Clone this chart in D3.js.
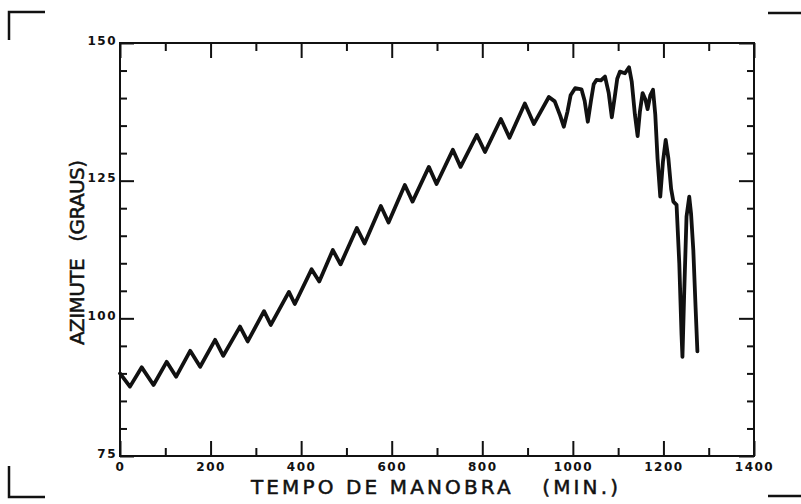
<!DOCTYPE html>
<html>
<head>
<meta charset="utf-8">
<script src="https://cdn.jsdelivr.net/npm/d3@7"></script>
<style>
  body { margin: 0; background: #fff; }
  svg { display: block; }
  .tick text { font-family: "DejaVu Sans", sans-serif; font-weight: bold; font-size: 12px; letter-spacing: 1.5px; fill: #111; }
  .tick line { stroke: #111; stroke-width: 2; }
  .title { font-family: "DejaVu Sans", sans-serif; font-size: 20px; fill: #111; stroke: #111; stroke-width: 0.5; white-space: pre; }
</style>
</head>
<body>
<div id="chart"></div>
<script>
// Plot constants
const W = 801, H = 504;
const MARGIN = {LEFT: 120, RIGHT: 47, TOP: 43, BOTTOM: 48};

// Data: tempo de manobra (min) and azimute (graus)
const timeMin = [
  0, 22, 48, 74, 103, 124, 155, 177, 210, 228, 265, 282, 318, 333, 373, 386,
  423, 440, 470, 487, 523, 540, 576, 593, 629, 646, 682, 699, 735, 752, 788,
  806, 841, 860, 894, 914, 947, 960, 972, 980, 988, 995, 1005, 1019, 1026,
  1033, 1040, 1046, 1052, 1062, 1071, 1079, 1086, 1093, 1098, 1104, 1115,
  1124, 1130, 1137, 1143, 1148, 1154, 1160, 1165, 1171, 1177, 1182, 1187,
  1193, 1199, 1205, 1211, 1217, 1222, 1229, 1235, 1240, 1242, 1246, 1251,
  1257, 1261, 1266, 1271, 1275
];
const azimuteDeg = [
  90.0, 87.6, 91.1, 87.9, 92.1, 89.4, 94.1, 91.2, 96.1, 93.2, 98.5, 95.8,
  101.3, 98.8, 104.8, 102.6, 108.9, 106.7, 112.4, 109.8, 116.4, 113.6, 120.4,
  117.4, 124.2, 121.2, 127.5, 124.4, 130.6, 127.5, 133.3, 130.2, 136.2, 132.8,
  139.0, 135.3, 140.2, 139.4, 136.8, 134.8, 137.5, 140.5, 141.8, 141.6, 139.5,
  135.7, 139.5, 142.5, 143.3, 143.2, 143.9, 141.0, 136.5, 140.5, 143.5, 144.8,
  144.5, 145.6, 143.0, 137.0, 133.1, 137.5, 140.9, 139.8, 138.0, 140.5, 141.5,
  137.0, 129.0, 122.1, 128.5, 132.4, 129.0, 123.5, 121.2, 120.6, 110.0, 97.0,
  93.0, 105.0, 118.5, 122.1, 119.0, 112.4, 102.0, 94.0
];
const xMajorTicks = [0, 200, 400, 600, 800, 1000, 1200, 1400];
const xMinorTicks = [100, 300, 500, 700, 900, 1100, 1300];
const yMajorTicks = [75, 100, 125, 150];
const yMinorTicks = [80, 85, 90, 95, 105, 110, 115, 120, 130, 135, 140, 145];
const xTitle = "TEMPO DE MANOBRA   (MIN.)";
const yTitle = "AZIMUTE   (GRAUS)";

const svg = d3.select("#chart").append("svg")
  .attr("width", W).attr("height", H);

const innerW = W - MARGIN.LEFT - MARGIN.RIGHT;
const innerH = H - MARGIN.TOP - MARGIN.BOTTOM;

const g = svg.append("g")
  .attr("transform", "translate(" + MARGIN.LEFT + "," + MARGIN.TOP + ")");

// Escalas
const x = d3.scaleLinear().domain([0, 1400]).range([0, innerW]);
const y = d3.scaleLinear().domain([75, 150]).range([innerH, 0]);

function addAxis(axis, tr) {
  const a = g.append("g").attr("transform", tr).call(axis);
  a.select(".domain").remove();
  return a;
}

// bottom
addAxis(d3.axisBottom(x).tickValues(xMajorTicks).tickSize(-15).tickPadding(6)
  .tickFormat(d3.format("d")), "translate(0," + innerH + ")");
addAxis(d3.axisBottom(x).tickValues(xMinorTicks).tickSize(-8).tickFormat(""),
  "translate(0," + innerH + ")");
// top
addAxis(d3.axisTop(x).tickValues(xMajorTicks).tickSize(-15).tickFormat(""), "translate(0,0)");
addAxis(d3.axisTop(x).tickValues(xMinorTicks).tickSize(-8).tickFormat(""), "translate(0,0)");
// left
addAxis(d3.axisLeft(y).tickValues(yMajorTicks).tickSize(-14).tickPadding(3)
  .tickFormat(d3.format("d")), "translate(0,0)")
  .selectAll("text").attr("dy", "0.1em");
addAxis(d3.axisLeft(y).tickValues(yMinorTicks).tickSize(-7).tickFormat(""), "translate(0,0)");
// right
addAxis(d3.axisRight(y).tickValues(yMajorTicks).tickSize(-15).tickFormat(""),
  "translate(" + innerW + ",0)");
addAxis(d3.axisRight(y).tickValues(yMinorTicks).tickSize(-7).tickFormat(""),
  "translate(" + innerW + ",0)");

// frame
g.append("rect")
  .attr("width", innerW).attr("height", innerH)
  .attr("fill", "none").attr("stroke", "#111").attr("stroke-width", 2);

// curve
const line = d3.line()
  .x((d, i) => x(timeMin[i]))
  .y(d => y(d));

g.append("path")
  .datum(azimuteDeg)
  .attr("d", line)
  .attr("fill", "none")
  .attr("stroke", "#111")
  .attr("stroke-width", 3.8)
  .attr("stroke-linejoin", "round")
  .attr("stroke-linecap", "round");

// titles
svg.append("text").attr("class", "title")
  .attr("x", 251).attr("y", 494)
  .attr("textLength", 367).attr("lengthAdjust", "spacing")
  .text(xTitle);

svg.append("text").attr("class", "title")
  .attr("transform", "translate(84,345) rotate(-90)")
  .attr("textLength", 185).attr("lengthAdjust", "spacing")
  .text(yTitle);

// corner marks from the scanned sheet
const corners = [
  [[9, 40], [9, 12], [45, 12]],
  [[9, 466], [9, 497], [45, 497]],
  [[768, 13], [801, 13]],
  [[768, 496], [801, 496]]
];
svg.selectAll(".corner").data(corners).join("path")
  .attr("class", "corner")
  .attr("d", d3.line())
  .attr("fill", "none").attr("stroke", "#111").attr("stroke-width", 2.5);
</script>
</body>
</html>
